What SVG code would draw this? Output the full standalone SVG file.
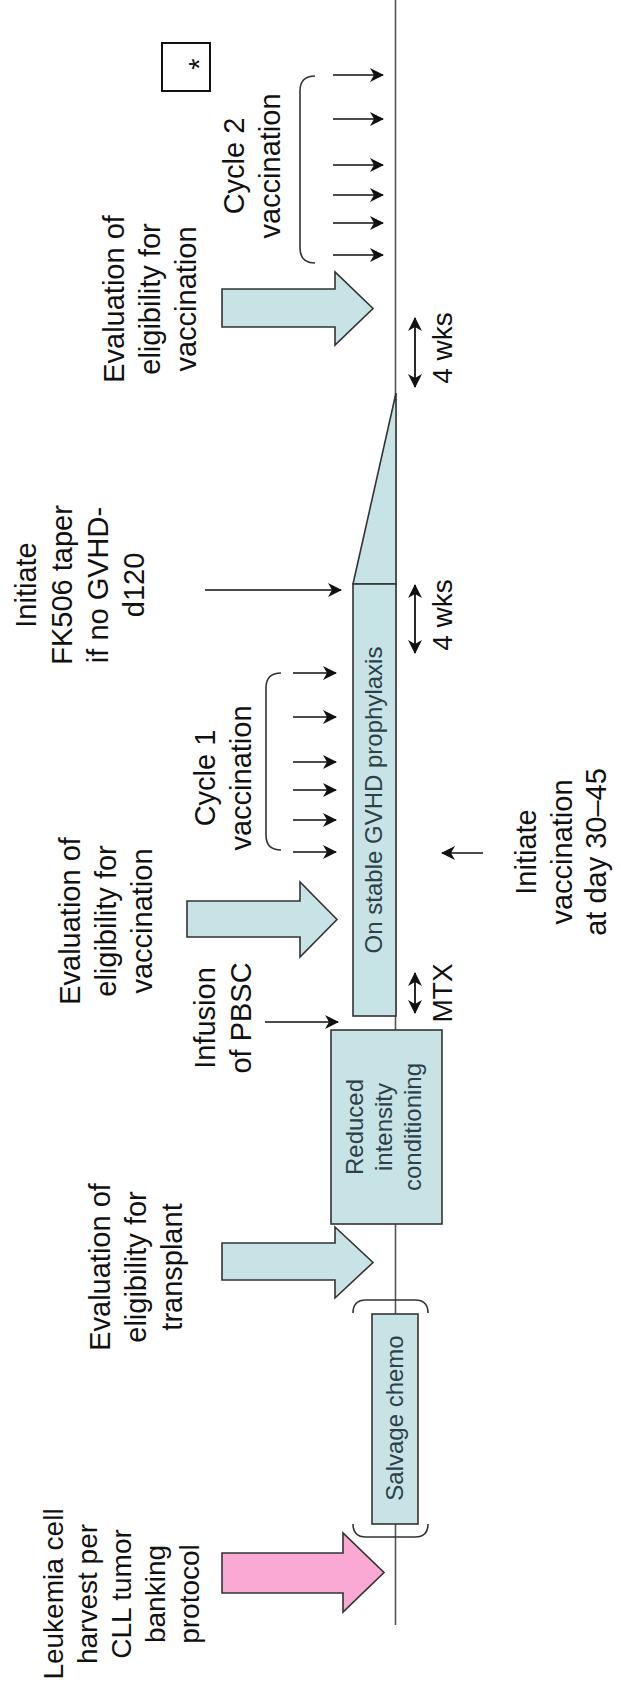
<svg xmlns="http://www.w3.org/2000/svg" width="621" height="1690" viewBox="0 0 621 1690">
<defs>
<style>
.t{font-family:"Liberation Sans",Arial,sans-serif;font-size:29px;fill:#111;text-anchor:middle}
.s{font-size:28px}
.bt{font-family:"Liberation Sans",Arial,sans-serif;font-size:24px;fill:#2e3f4a;text-anchor:middle}
.box{fill:#c7e3e5;stroke:#333;stroke-width:1.6}
.blk{fill:#c7e3e5;stroke:#333;stroke-width:1.6;stroke-linejoin:miter}
.pink{fill:#f9a9d3;stroke:#333;stroke-width:1.6}
.ar{fill:none;stroke:#111;stroke-width:1.6;marker-end:url(#hd)}
.dar{fill:none;stroke:#111;stroke-width:1.8;marker-end:url(#hd);marker-start:url(#hd)}
.br{fill:none;stroke:#333;stroke-width:1.6}
</style>
<marker id="hd" viewBox="0 0 14 14" refX="13" refY="7" markerWidth="14" markerHeight="14" markerUnits="userSpaceOnUse" orient="auto-start-reverse">
<path d="M0,0 L14,7 L0,14 L4,7 z" fill="#111"/>
</marker>
</defs>
<rect width="621" height="1690" fill="#fff"/>
<g id="timeline">
<path d="M395.5,0 V1625" stroke="#555" stroke-width="1.6" fill="none"/>
</g>
<g id="connectors">
<path class="ar" d="M333,75 H383"/>
<path class="ar" d="M333,119 H383"/>
<path class="ar" d="M333,165 H383"/>
<path class="ar" d="M333,195 H383"/>
<path class="ar" d="M333,223 H383"/>
<path class="ar" d="M333,255 H383"/>
<path class="ar" d="M293,673 H336"/>
<path class="ar" d="M293,717 H336"/>
<path class="ar" d="M293,762 H336"/>
<path class="ar" d="M293,790 H336"/>
<path class="ar" d="M293,820 H336"/>
<path class="ar" d="M293,852 H336"/>
<path class="ar" d="M205,590 H341"/>
<path class="ar" d="M265,1022 H338"/>
<path class="ar" d="M483,853 H442"/>
<path class="dar" d="M415,318 V387"/>
<path class="dar" d="M415,585 V653"/>
<path class="dar" d="M415,973 V1013"/>
<path class="br" d="M315,76 Q300,76 300,91 V248 Q300,263 315,263"/>
<path class="br" d="M281,673 Q266,673 266,688 V835 Q266,850 281,850"/>
<path class="br" d="M353,1313 Q353,1300 366,1300 H415 Q428,1300 428,1313"/>
<path class="br" d="M353,1524 Q353,1537 366,1537 H415 Q428,1537 428,1524"/>
</g>
<g id="star">
<rect x="162" y="43" width="48" height="48" fill="#fff" stroke="#111" stroke-width="2"/>
<text class="t" transform="translate(209,64) rotate(-90)">*</text>
</g>
<g id="cycle2">
<text class="t" transform="translate(244,166) rotate(-90)">Cycle 2</text>
<text class="t" transform="translate(280,166) rotate(-90)">vaccination</text>
</g>
<g id="eval-vacc-2">
<path class="blk" d="M222,289 H335 V272 L373,308.5 L335,345 V327 H222 Z"/>
<text class="t" transform="translate(124,299) rotate(-90)">Evaluation of</text>
<text class="t" transform="translate(160,299) rotate(-90)">eligibility for</text>
<text class="t" transform="translate(196,299) rotate(-90)">vaccination</text>
</g>
<g id="wks-upper">
<text class="t s" transform="translate(452,348) rotate(-90)">4 wks</text>
</g>
<g id="taper">
<path class="box" d="M353,584 H396 V393 Z"/>
</g>
<g id="fk506">
<text class="t" transform="translate(36,585) rotate(-90)">Initiate</text>
<text class="t" transform="translate(72,585) rotate(-90)">FK506 taper</text>
<text class="t" transform="translate(108,585) rotate(-90)">if no GVHD-</text>
<text class="t" transform="translate(144,585) rotate(-90)">d120</text>
</g>
<g id="wks-lower">
<text class="t s" transform="translate(452,615) rotate(-90)">4 wks</text>
</g>
<g id="cycle1">
<text class="t" transform="translate(215,778) rotate(-90)">Cycle 1</text>
<text class="t" transform="translate(251,778) rotate(-90)">vaccination</text>
</g>
<g id="gvhd">
<rect class="box" x="353" y="584" width="43" height="432"/>
<text class="bt" transform="translate(382,800) rotate(-90)">On stable GVHD prophylaxis</text>
</g>
<g id="initiate-vacc">
<text class="t" transform="translate(536,852) rotate(-90)">Initiate</text>
<text class="t" transform="translate(572,852) rotate(-90)">vaccination</text>
<text class="t" transform="translate(606,852) rotate(-90)">at day 30–45</text>
</g>
<g id="eval-vacc-1">
<path class="blk" d="M187,901 H300 V882 L337,919.5 L300,957 V937 H187 Z"/>
<text class="t" transform="translate(80,921) rotate(-90)">Evaluation of</text>
<text class="t" transform="translate(116,921) rotate(-90)">eligibility for</text>
<text class="t" transform="translate(152,921) rotate(-90)">vaccination</text>
</g>
<g id="mtx">
<text class="t s" transform="translate(452,993) rotate(-90)">MTX</text>
</g>
<g id="infusion">
<text class="t" transform="translate(215,1018) rotate(-90)">Infusion</text>
<text class="t" transform="translate(251,1018) rotate(-90)">of PBSC</text>
</g>
<g id="ric">
<rect class="box" x="331" y="1030" width="111" height="194"/>
<text class="bt" transform="translate(363,1127) rotate(-90)">Reduced</text>
<text class="bt" transform="translate(392,1127) rotate(-90)">intensity</text>
<text class="bt" transform="translate(421,1127) rotate(-90)">conditioning</text>
</g>
<g id="eval-transplant">
<path class="blk" d="M222,1243 H335 V1227 L373,1262.5 L335,1298 V1280 H222 Z"/>
<text class="t" transform="translate(110,1267) rotate(-90)">Evaluation of</text>
<text class="t" transform="translate(146,1267) rotate(-90)">eligibility for</text>
<text class="t" transform="translate(182,1267) rotate(-90)">transplant</text>
</g>
<g id="salvage">
<rect class="box" x="372" y="1314" width="46" height="210"/>
<text class="bt" transform="translate(403,1418) rotate(-90)">Salvage chemo</text>
</g>
<g id="leukemia">
<path class="pink" d="M222,1553 H343 V1533 L384,1572.5 L343,1612 V1593 H222 Z"/>
<text class="t s" transform="translate(63,1594) rotate(-90)">Leukemia cell</text>
<text class="t s" transform="translate(97,1594) rotate(-90)">harvest per</text>
<text class="t s" transform="translate(131,1594) rotate(-90)">CLL tumor</text>
<text class="t s" transform="translate(165,1594) rotate(-90)">banking</text>
<text class="t s" transform="translate(199,1594) rotate(-90)">protocol</text>
</g>
</svg>
